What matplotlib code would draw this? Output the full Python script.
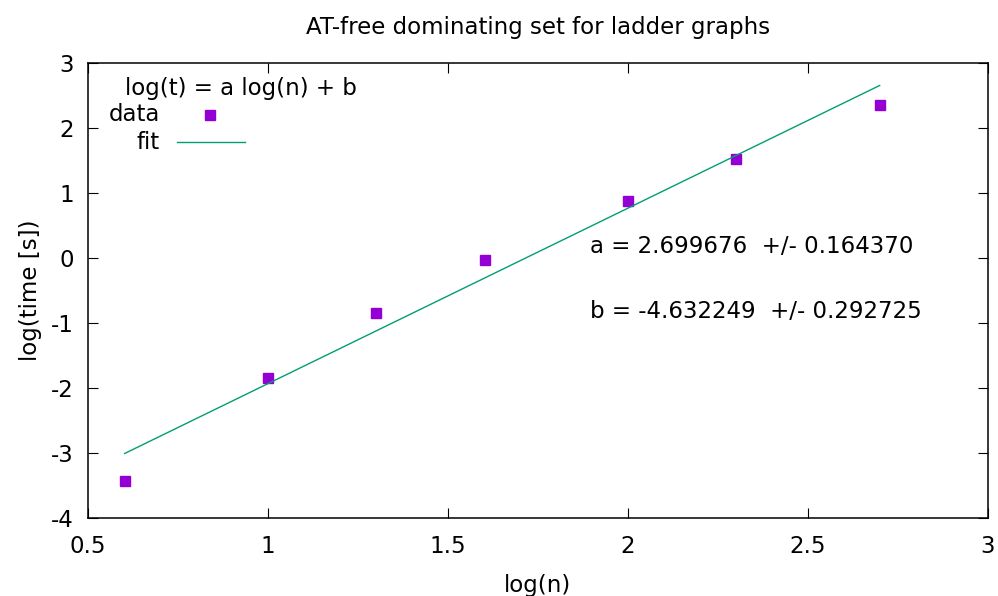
import numpy as np
import matplotlib
matplotlib.use("Agg")
import matplotlib.pyplot as plt

# data (log10 of n, log10 of time)
log_n = [0.602, 1.0, 1.301, 1.602, 2.0, 2.301, 2.699]
log_t = [-3.43, -1.85, -0.84, -0.03, 0.88, 1.53, 2.36]

# fit parameters as printed on the chart
fit_a = 2.699676
fit_a_err = 0.164370
fit_b = -4.632249
fit_b_err = 0.292725

x_ticks = [0.5, 1, 1.5, 2, 2.5, 3]
x_tick_labels = ["0.5", "1", "1.5", "2", "2.5", "3"]
y_ticks = [-4, -3, -2, -1, 0, 1, 2, 3]

purple = "#9400d3"
green = "#009e73"
fs = 16.5

plt.rcParams["font.family"] = ["DejaVu Sans"]
plt.rcParams["axes.unicode_minus"] = False

fig = plt.figure(figsize=(9.98, 5.96), dpi=100)
ax = fig.add_axes([88 / 998, 78 / 596, 900 / 998, 455 / 596])

ax.plot(log_n, log_t, "s", color=purple, markersize=7.5, linestyle="none")
xf = np.array([min(log_n), max(log_n)])
ax.plot(xf, fit_a * xf + fit_b, color=green, lw=1.0)

ax.set_xlim(0.5, 3)
ax.set_ylim(-4, 3)
ax.set_xticks(x_ticks)
ax.set_xticklabels(x_tick_labels)
ax.set_yticks(y_ticks)
ax.tick_params(direction="in", length=7, width=0.8, top=True, right=True,
               labelsize=fs, pad=10)
ax.tick_params(axis="x", pad=12)
for s in ax.spines.values():
    s.set_linewidth(1.1)

ax.set_title("AT-free dominating set for ladder graphs", fontsize=fs, pad=21)
ax.set_xlabel("log(n)", fontsize=fs, labelpad=12)
ax.set_ylabel("log(time [s])", fontsize=fs, labelpad=7)

ax.text(1.895, 0.18, f"a = {fit_a:.6f}  +/- {fit_a_err:.6f}", fontsize=fs, va="center")
ax.text(1.895, -0.82, f"b = {fit_b:.6f}  +/- {fit_b_err:.6f}", fontsize=fs, va="center")

# gnuplot-style key: right-justified labels followed by the sample
tr = ax.transAxes
ax.text(0.170, 0.943, "log(t) = a log(n) + b", fontsize=fs, ha="center", va="center", transform=tr)
ax.text(0.080, 0.886, "data", fontsize=fs, ha="right", va="center", transform=tr)
ax.plot([0.1356], [0.886], "s", color=purple, markersize=7.5, transform=tr, clip_on=False)
ax.text(0.080, 0.826, "fit", fontsize=fs, ha="right", va="center", transform=tr)
ax.plot([0.0989, 0.1744], [0.826, 0.826], color=green, lw=1.0, transform=tr)

fig.savefig("out.png", dpi=100)
